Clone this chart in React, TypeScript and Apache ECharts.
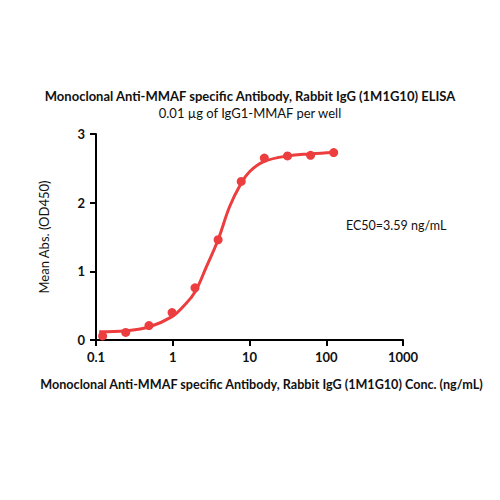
import React from "react";
import * as echarts from "echarts";

const concentrations = [0.122, 0.244, 0.49, 0.98, 1.95, 3.9, 7.8, 15.6, 31.25, 62.5, 125];
const meanAbs = [0.06, 0.11, 0.21, 0.4, 0.76, 1.46, 2.31, 2.65, 2.68, 2.69, 2.73];

// fitted curve
const curveX = [0.11, 0.244, 0.49, 0.98, 1.4, 1.95, 2.75, 3.9, 5.5, 7.6, 10, 15.6, 31.25, 62.5, 125];
const curveY = [0.12, 0.135, 0.19, 0.34, 0.5, 0.7, 1.07, 1.46, 1.94, 2.26, 2.45, 2.6, 2.68, 2.71, 2.73];

const yTicks = [0, 1, 2, 3];
const xTickLabels = ["0.1", "1", "10", "100", "1000"];

const titleText = "Monoclonal Anti-MMAF specific Antibody, Rabbit IgG (1M1G10) ELISA";
const subtitleText = "0.01 µg of IgG1-MMAF per well";
const xName = "Monoclonal Anti-MMAF specific Antibody, Rabbit IgG (1M1G10) Conc. (ng/mL)";
const yName = "Mean Abs. (OD450)";
const ec50Text = "EC50=3.59 ng/mL";

const RED = "#EC3D3F";
const FONT = "Lato";

const App: React.FC = () => {
    const chartRef = React.useRef<HTMLDivElement>(null);

    React.useEffect(() => {
        if (!chartRef.current) return;
        const chart = echarts.init(chartRef.current, null, { renderer: "svg" });

        const option = {
            animation: false,
            backgroundColor: "#ffffff",
            textStyle: { fontFamily: FONT },
            title: {
                text: titleText,
                subtext: subtitleText,
                left: "center",
                top: 84,
                itemGap: 4,
                textStyle: { fontFamily: FONT, fontSize: 13, fontWeight: "bold", color: "#111" },
                subtextStyle: { fontFamily: FONT, fontSize: 13, color: "#111" },
            },
            grid: { left: 96, right: 97, top: 134, bottom: 160, containLabel: false },
            xAxis: {
                type: "log",
                logBase: 10,
                min: 0.1,
                max: 1000,
                name: xName,
                nameLocation: "middle",
                nameGap: 38,
                nameTextStyle: {
                    fontFamily: FONT,
                    fontSize: 12.6,
                    fontWeight: "bold",
                    color: "#111",
                    padding: [0, 0, 0, 24],
                },
                axisLine: { lineStyle: { color: "#000", width: 2 } },
                axisTick: { show: true, length: 6, lineStyle: { color: "#000", width: 2 } },
                minorTick: { show: false },
                splitLine: { show: false },
                axisLabel: {
                    fontFamily: FONT,
                    fontSize: 13,
                    fontWeight: "bold",
                    color: "#111",
                    margin: 10,
                    formatter: (v: number) => {
                        const i = Math.round(Math.log10(v)) + 1;
                        return xTickLabels[i] ?? String(v);
                    },
                },
            },
            yAxis: {
                type: "value",
                min: yTicks[0],
                max: yTicks[yTicks.length - 1],
                interval: 1,
                name: yName,
                nameLocation: "middle",
                nameGap: 46,
                nameTextStyle: { fontFamily: FONT, fontSize: 13, color: "#111" },
                axisLine: { show: true, lineStyle: { color: "#000", width: 2 } },
                axisTick: { show: true, length: 6, lineStyle: { color: "#000", width: 2 } },
                splitLine: { show: false },
                axisLabel: {
                    fontFamily: FONT,
                    fontSize: 13,
                    fontWeight: "bold",
                    color: "#111",
                    margin: 11,
                },
            },
            graphic: [
                {
                    type: "text",
                    left: 346,
                    top: 219,
                    style: { text: ec50Text, fontFamily: FONT, fontSize: 12.5, fill: "#111" },
                },
            ],
            series: [
                {
                    name: "Fit",
                    type: "line",
                    smooth: 0.4,
                    showSymbol: false,
                    lineStyle: { color: RED, width: 3 },
                    data: curveX.map((x, i) => [x, curveY[i]]),
                    z: 2,
                },
                {
                    name: "Mean Abs.",
                    type: "scatter",
                    symbol: "circle",
                    symbolSize: 9,
                    itemStyle: { color: RED, opacity: 1 },
                    data: concentrations.map((x, i) => [x, meanAbs[i]]),
                    z: 3,
                },
            ],
        };

        chart.setOption(option as any);

        return () => {
            chart.dispose();
        };
    }, []);

    return (
        <div
            ref={chartRef}
            style={{ position: "fixed", left: 0, top: 0, width: "500px", height: "500px" }}
        />
    );
};

export default App;
